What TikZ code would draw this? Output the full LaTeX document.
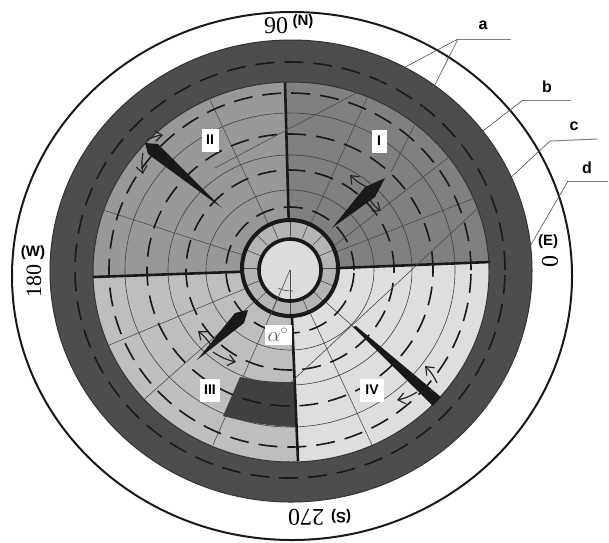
\documentclass[tikz,border=0pt]{standalone}
\usepackage{fontspec}
\setmainfont{Liberation Serif}
\setsansfont{Liberation Sans}
\usetikzlibrary{arrows.meta}

\definecolor{ringdark}{HTML}{4D4D4D}
\definecolor{patchdark}{HTML}{404040}
\definecolor{sectorone}{HTML}{808080}
\definecolor{sectortwo}{HTML}{989898}
\definecolor{sectorthree}{HTML}{BEBEBE}
\definecolor{sectorfour}{HTML}{DEDEDE}
\definecolor{ringlight}{HTML}{B4B4B4}
\definecolor{hublight}{HTML}{DCDCDC}

\tikzset{
    thinarc/.style={draw=black!75, line width=0.6pt},
    dasharc/.style={draw=black!90, line width=1.6pt, dash pattern=on 19pt off 10pt},
    spoke/.style={draw=black!70, line width=0.6pt},
    border/.style={draw=black!90, line width=2.6pt},
    needle/.style={fill=black!90},
    leader/.style={draw=black!70, line width=0.6pt},
    tail/.style={draw=black!50, line width=1pt},
    turn/.style={draw=black!85, line width=1.2pt, -{Straight Barb[length=7pt,width=11pt]}},
    sectorbox/.style={fill=white, inner sep=0pt, minimum width=15pt, minimum height=23pt, font=\sffamily\bfseries\fontsize{14}{14}\selectfont},
    letterlabel/.style={inner sep=0pt, font=\sffamily\bfseries\fontsize{16}{16}\selectfont},
    sidelabel/.style={inner sep=0pt, font=\sffamily\bfseries\fontsize{15}{15}\selectfont},
    degreelabel/.style={inner sep=0pt, font=\fontsize{24}{24}\selectfont}
}

\begin{document}
\begin{tikzpicture}[x=1pt, y=-1pt]
    \useasboundingbox (0,0) rectangle (609,542);

    % Draw outer rings
    \draw[line width=2pt, draw=black!90] (292,276) ellipse [x radius=280pt, y radius=264pt];
    \draw[fill=ringdark, draw=black!80, line width=1pt] (291,271) ellipse [x radius=241pt, y radius=231pt];
    \draw[dasharc] (290,270) ellipse [x radius=215pt, y radius=208pt];

    % Draw sectors
    \begin{scope}
        \clip (291,272) ellipse [x radius=198pt, y radius=190pt];
        \fill[sectorone] (290,270) -- (285,70) -- (500,70) -- (500,262) -- cycle;
        \fill[sectortwo] (290,270) -- (285,70) -- (80,70) -- (80,277) -- cycle;
        \fill[sectorthree] (290,270) -- (80,277) -- (80,470) -- (298,470) -- cycle;
        \fill[sectorfour] (290,270) -- (298,470) -- (500,470) -- (500,262) -- cycle;

        % Thin spokes
        \draw[spoke] (290,270) -- (210,100);
        \draw[spoke] (290,270) -- (367,98);
        \draw[spoke] (290,270) -- (103,210);
        \draw[spoke] (290,270) -- (490,192);
        \draw[spoke] (290,270) -- (107,346);
        \draw[spoke] (290,270) -- (130,412);
        \draw[spoke] (290,270) -- (213,445);
        \draw[spoke] (290,270) -- (372,445);
        \draw[spoke] (290,270) -- (437,402);

        % Thin circles
        \draw[thinarc] (290,270) ellipse [x radius=84pt, y radius=80pt];
        \draw[thinarc] (290,270) ellipse [x radius=122pt, y radius=115pt];
        \draw[thinarc] (290,270) ellipse [x radius=165pt, y radius=157pt];
    \end{scope}

    % Dark patch
    \fill[patchdark] (240,377) to[bend right=6] (295,382) -- (297,427) to[bend left=6] (223,416) -- cycle;

    % Dashed circles
    \draw[dasharc] (290,270) ellipse [x radius=64pt, y radius=63pt];
    \draw[dasharc] (290,270) ellipse [x radius=104pt, y radius=100pt];
    \draw[dasharc] (290,270) ellipse [x radius=143pt, y radius=136pt];
    \draw[dasharc] (290,270) ellipse [x radius=181pt, y radius=177pt];

    % Sector borders
    \draw[border] (290,270) -- (93,277);
    \draw[border] (290,270) -- (285,82);
    \draw[border] (290,270) -- (490,262);
    \draw[border] (290,270) -- (298,461);
    \draw[draw=black!80, line width=1pt] (291,272) ellipse [x radius=198pt, y radius=190pt];

    % Hub
    \fill[ringlight] (290,268) circle [radius=48pt];
    \foreach \tickangle in {0,22.5,...,337.5}
        \draw[spoke] (290,268) ++(\tickangle:32pt) -- ++(\tickangle:16pt);
    \draw[draw=black!90, line width=4pt] (290,268) circle [radius=48pt];
    \draw[fill=hublight, draw=black!90, line width=3.6pt] (290,270) circle [radius=31pt];
    \draw[spoke] (290,270) -- (270,316);
    \draw[spoke] (290,270) -- (290,299);
    \draw[spoke] (278,288) to[bend right=12] (293,291);

    % Needles
    \fill[needle] (385,178) -- (375,197) -- (332,228) -- (365,187) -- cycle;
    \fill[needle] (222,208) -- (158,144) -- (145,143) -- (148,154) -- cycle;
    \fill[needle] (197,360) -- (244,323) -- (248,310) -- (235,313) -- cycle;
    \fill[needle] (353,327) -- (356,326) -- (441,397) -- (433,406) -- cycle;

    % Turning arrows
    \draw[turn] (367,187) to[bend left=10] (350,175);
    \draw[turn] (370,200) to[bend right=10] (381,211);
    \draw[turn] (143,153) to[bend right=10] (143,174);
    \draw[turn] (147,140) to[bend left=10] (163,135);
    \draw[turn] (212,347) to[bend right=10] (198,331);
    \draw[turn] (213,352) to[bend right=10] (236,362);
    \draw[turn] (437,383) to[bend right=10] (425,366);
    \draw[turn] (417,392) to[bend left=10] (397,400);

    % Sector labels
    \node[sectorbox] (one) at (379,141) {I};
    \node[sectorbox, minimum width=17pt] (two) at (210,140) {II};
    \node[sectorbox, minimum width=20pt] (three) at (210,390) {III};
    \node[sectorbox, minimum width=24pt] (four) at (372,390) {IV};
    \node[fill=white, inner sep=0pt, minimum width=27pt, minimum height=20pt, text=black!65] (angle) at (278,335) {\fontsize{20}{20}\selectfont$\alpha^{\circ}$};

    % Leader lines
    \coordinate (aelbow) at (458,39);
    \coordinate (atail) at (511,39);
    \coordinate (aleft) at (215,168);
    \coordinate (aright) at (391,172);
    \coordinate (belbow) at (523,100);
    \coordinate (btail) at (571,100);
    \coordinate (bend) at (335,245);
    \coordinate (celbow) at (550,141);
    \coordinate (ctail) at (597,139);
    \coordinate (cend) at (275,397);
    \coordinate (delbow) at (568,181);
    \coordinate (dtail) at (608,181);
    \coordinate (dend) at (522,260);
    \draw[leader] (aelbow) -- (aleft);
    \draw[leader] (aelbow) -- (aright);
    \draw[tail] (aelbow) -- (atail);
    \draw[leader] (belbow) -- (bend);
    \draw[tail] (belbow) -- (btail);
    \draw[leader] (celbow) -- (cend);
    \draw[tail] (celbow) -- (ctail);
    \draw[leader] (delbow) -- (dend);
    \draw[tail] (delbow) -- (dtail);

    % Letters
    \node[letterlabel] (a) at (483,25) {a};
    \node[letterlabel] (b) at (547,87) {b};
    \node[letterlabel] (c) at (574,126) {c};
    \node[letterlabel] (d) at (587,168) {d};

    % Directions
    \node[degreelabel] (north) at (276,26) {90};
    \node[sidelabel] (northside) at (303,22) {(N)};
    \node[sidelabel] (east) at (548,242) {(E)};
    \node[degreelabel, rotate=-90] (eastdeg) at (550,261) {0};
    \node[sidelabel] (west) at (33,253) {(W)};
    \node[degreelabel, rotate=90, font=\fontsize{22}{22}\selectfont] (westdeg) at (34,281) {180};
    \node[degreelabel, rotate=180] (south) at (306,517) {270};
    \node[sidelabel, rotate=180] (southside) at (341,516) {(S)};
\end{tikzpicture}
\end{document}
